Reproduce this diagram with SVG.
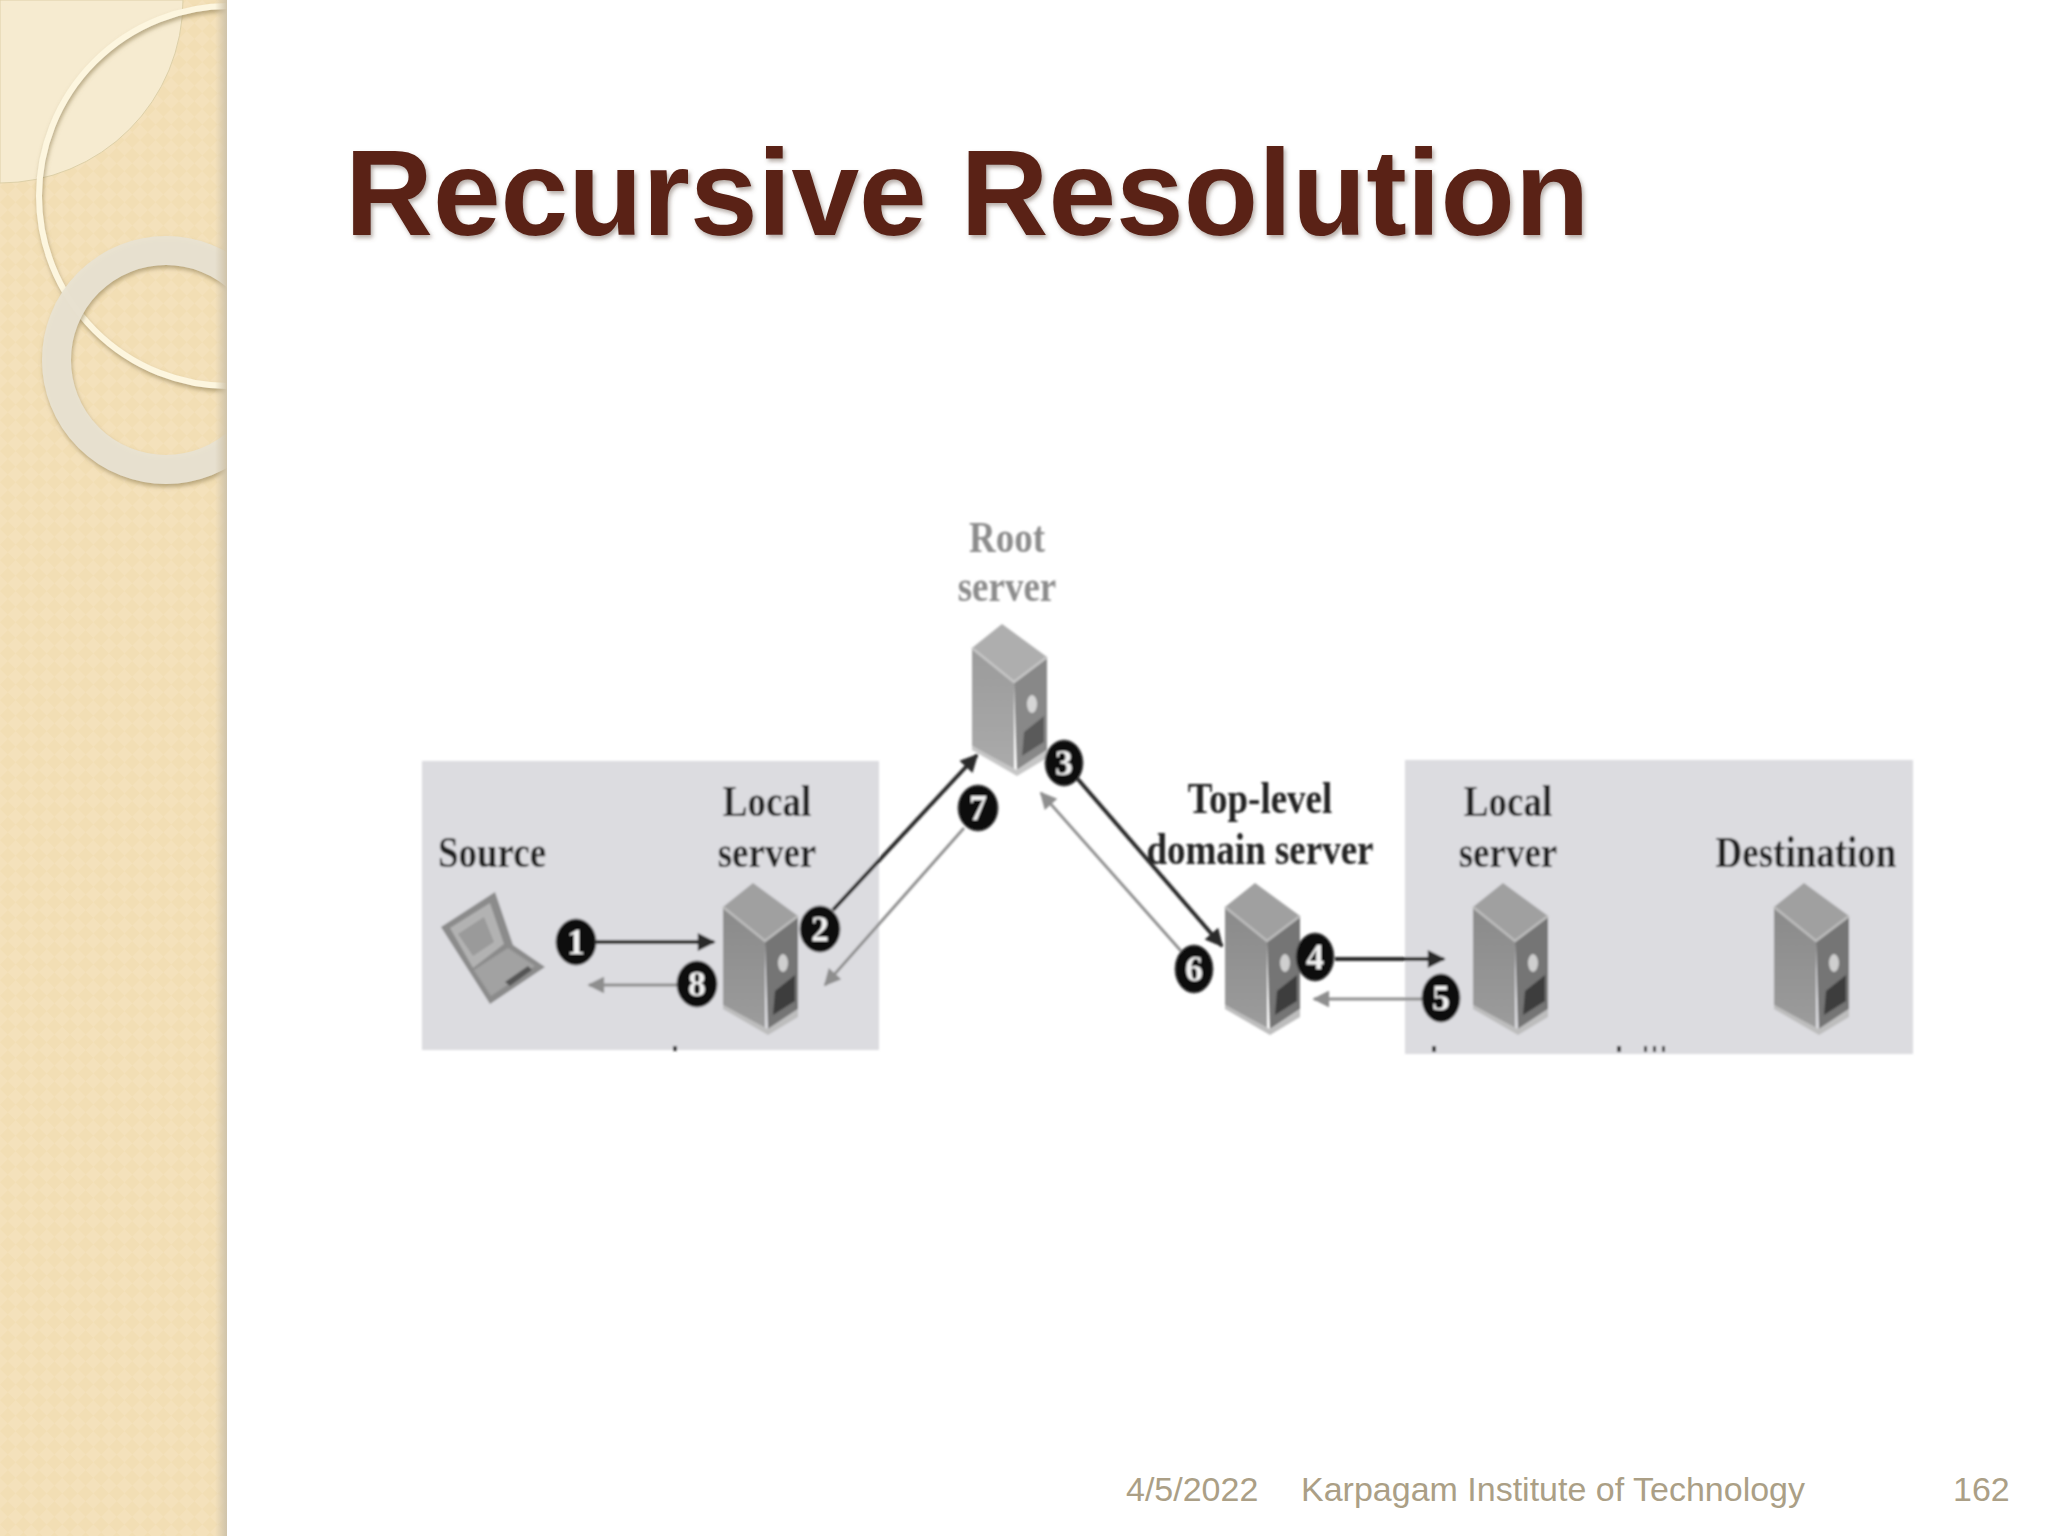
<svg xmlns="http://www.w3.org/2000/svg" xmlns:xlink="http://www.w3.org/1999/xlink" width="2048" height="1536" viewBox="0 0 2048 1536">
<style>
.lbl{font-family:"Liberation Serif","Times New Roman",serif;font-weight:700;font-size:37px;fill:#242424;text-anchor:middle}
.num{font-family:"Liberation Serif","Times New Roman",serif;font-weight:700;font-size:36px;fill:#f2f2f2;text-anchor:middle}
.foot{font-family:"Liberation Sans",Arial,sans-serif;font-size:34px;fill:#ab9f86}
.dark{stroke:#2b2b2b;stroke-width:4;fill:none;marker-end:url(#ad)}
.light{stroke:#8e8e8e;stroke-width:2.8;fill:none;marker-end:url(#al)}
.badge{fill:#0c0c0c;stroke:#555;stroke-width:1}
</style>
<defs>
<pattern id="chk" width="22" height="22" patternUnits="userSpaceOnUse" patternTransform="rotate(45)">
<rect width="22" height="22" fill="#f2deb4"/><rect width="11" height="11" fill="#f4e1bb"/><rect x="11" y="11" width="11" height="11" fill="#f4e1bb"/>
</pattern>
<linearGradient id="edge"><stop offset="0" stop-color="#cfc3aa" stop-opacity="0"/><stop offset="1" stop-color="#cfc3aa"/></linearGradient>
<linearGradient id="lf" x1="0" y1="0" x2="0" y2="1"><stop offset="0" stop-color="#8a8a8a"/><stop offset="1" stop-color="#9c9c9c"/></linearGradient>
<clipPath id="side"><rect width="227" height="1536"/></clipPath>
<filter id="sh" x="-20%" y="-20%" width="140%" height="140%"><feDropShadow dx="1" dy="3" stdDeviation="2" flood-color="#8b7a50" flood-opacity=".6"/></filter>
<filter id="ts" x="-5%" y="-20%" width="110%" height="140%"><feDropShadow dx="2" dy="3" stdDeviation="2" flood-color="#6b5a50" flood-opacity=".5"/></filter>
<filter id="soft" x="-10%" y="-10%" width="120%" height="120%"><feGaussianBlur stdDeviation="1.1"/></filter>
<marker id="ad" viewBox="0 0 10 10" refX="9" refY="5" markerWidth="5" markerHeight="4.5" orient="auto"><path d="M0 0L10 5L0 10Z" fill="#2b2b2b"/></marker>
<marker id="al" viewBox="0 0 10 10" refX="9" refY="5" markerWidth="8" markerHeight="6" orient="auto"><path d="M0 0L10 5L0 10Z" fill="#8e8e8e"/></marker>
<g id="srv">
<path d="M0 24L42 58V146L0 122Z" fill="url(#lf)"/>
<path d="M42 58L75 33V126L45 146Z" fill="#747474"/>
<path d="M30 0L75 33L42 58L0 24Z" fill="#a0a0a0"/>
<path d="M0 24L42 58L75 33" fill="none" stroke="#bcbcbc" stroke-width="2.500"/>
<path d="M0 122L45 146L75 126V134L45 152L0 126Z" fill="#bdbdbd"/>
<path d="M50 132L52 108L72 92V118Z" fill="#3e3e3e"/>
<ellipse cx="60" cy="80" rx="5" ry="9" fill="#cfcfcf"/>
</g>
</defs>

<g id="sidebar">
<rect width="227" height="1536" fill="url(#chk)"/>
<path d="M0 0H183A183 183 0 0 1 0 183Z" fill="#f6ebd0" stroke="#ddd0a8" stroke-width="1"/>
<g clip-path="url(#side)">
<circle cx="229" cy="196" r="190" fill="none" stroke="#fdf6df" stroke-width="6" filter="url(#sh)"/>
<circle cx="166" cy="360" r="109.500" fill="none" stroke="#e9e3d2" stroke-opacity=".95" stroke-width="29" filter="url(#sh)"/>
</g>
<rect x="215" width="12" height="1536" fill="url(#edge)"/>
</g>

<text id="title" x="345" y="235" font-family="'Liberation Sans',Arial,sans-serif" font-weight="700" font-size="121.700" fill="#5a2116" filter="url(#ts)">Recursive Resolution</text>

<g filter="url(#soft)">
<g id="zones">
<rect id="zone-left" x="422" y="761" width="457" height="289" fill="#dcdce0"/>
<rect id="zone-right" x="1405" y="760" width="508" height="294" fill="#dcdce0"/>
<path d="M673 1046h4v5h-4zM1432 1046h4v6h-4zM1617 1046h4v6h-4zM1644 1046h3v6h-3zM1653 1046h3v6h-3zM1662 1046h3v6h-3z" fill="#333"/>
</g>

<g id="node-root">
<use xlink:href="#srv" href="#srv" x="972" y="624" opacity=".85"/>
<text class="lbl" transform="translate(1007 552) scale(1 1.2)" style="fill:#8c8c8c">Root</text>
<text class="lbl" transform="translate(1007 601) scale(1 1.2)" style="fill:#8c8c8c">server</text>
</g>
<g id="node-source">
<path d="M441 927L495 892L513 945L545 967L490 1004L441 927Z" fill="#8b8b8b"/>
<path d="M450 928L490 903L504 944L473 968Z" fill="#b2b2b2"/>
<path d="M458 934L484 917L494 942L473 956Z" fill="#9a9a9a"/>
<path d="M474 970L508 948L535 966L491 996Z" fill="#a2a2a2"/>
<path d="M505 982L528 966L532 970L510 986Z" fill="#555"/>
<text class="lbl" transform="translate(492 867) scale(1 1.2)">Source</text>
</g>
<g id="node-local-left">
<use xlink:href="#srv" href="#srv" x="723" y="883"/>
<text class="lbl" transform="translate(767 816) scale(1 1.2)">Local</text>
<text class="lbl" transform="translate(767 867) scale(1 1.2)">server</text>
</g>
<g id="node-tld">
<use xlink:href="#srv" href="#srv" x="1225" y="883"/>
<text class="lbl" transform="translate(1260 813) scale(1 1.2)">Top-level</text>
<text class="lbl" transform="translate(1260 864) scale(1 1.2)">domain server</text>
</g>
<g id="node-local-right">
<use xlink:href="#srv" href="#srv" x="1473" y="883"/>
<text class="lbl" transform="translate(1508 816) scale(1 1.2)">Local</text>
<text class="lbl" transform="translate(1508 867) scale(1 1.2)">server</text>
</g>
<g id="node-destination">
<use xlink:href="#srv" href="#srv" x="1774" y="883"/>
<text class="lbl" transform="translate(1806 867) scale(1 1.2)">Destination</text>
</g>

<g id="connectors">
<path class="dark" d="M595 942H714"/>
<path class="light" d="M679 985H589"/>
<path class="dark" d="M833 910L977 755"/>
<path class="light" d="M964 828L825 985"/>
<path class="dark" d="M1076 777L1222 946"/>
<path class="light" d="M1181 951L1041 793"/>
<path class="dark" d="M1335 959H1444"/>
<path class="light" d="M1422 999H1314"/>
</g>

<g id="badges">
<g id="b1"><ellipse class="badge" cx="576" cy="942" rx="20" ry="23"/><text class="num" x="576" y="954">1</text></g>
<g id="b2"><ellipse class="badge" cx="820" cy="929" rx="20" ry="23"/><text class="num" x="820" y="941">2</text></g>
<g id="b3"><ellipse class="badge" cx="1064" cy="763" rx="19" ry="23"/><text class="num" x="1064" y="775">3</text></g>
<g id="b4"><ellipse class="badge" cx="1315" cy="957" rx="19" ry="24"/><text class="num" x="1315" y="969">4</text></g>
<g id="b5"><ellipse class="badge" cx="1441" cy="998" rx="19" ry="24"/><text class="num" x="1441" y="1010">5</text></g>
<g id="b6"><ellipse class="badge" cx="1194" cy="969" rx="19" ry="24"/><text class="num" x="1194" y="981">6</text></g>
<g id="b7"><ellipse class="badge" cx="978" cy="808" rx="20" ry="23"/><text class="num" x="978" y="820">7</text></g>
<g id="b8"><ellipse class="badge" cx="697" cy="984" rx="20" ry="23"/><text class="num" x="697" y="996">8</text></g>
</g>
</g>

<g id="footer">
<text class="foot" x="1126" y="1501">4/5/2022</text>
<text class="foot" x="1301" y="1501">Karpagam Institute of Technology</text>
<text class="foot" x="1953" y="1501">162</text>
</g>
</svg>
